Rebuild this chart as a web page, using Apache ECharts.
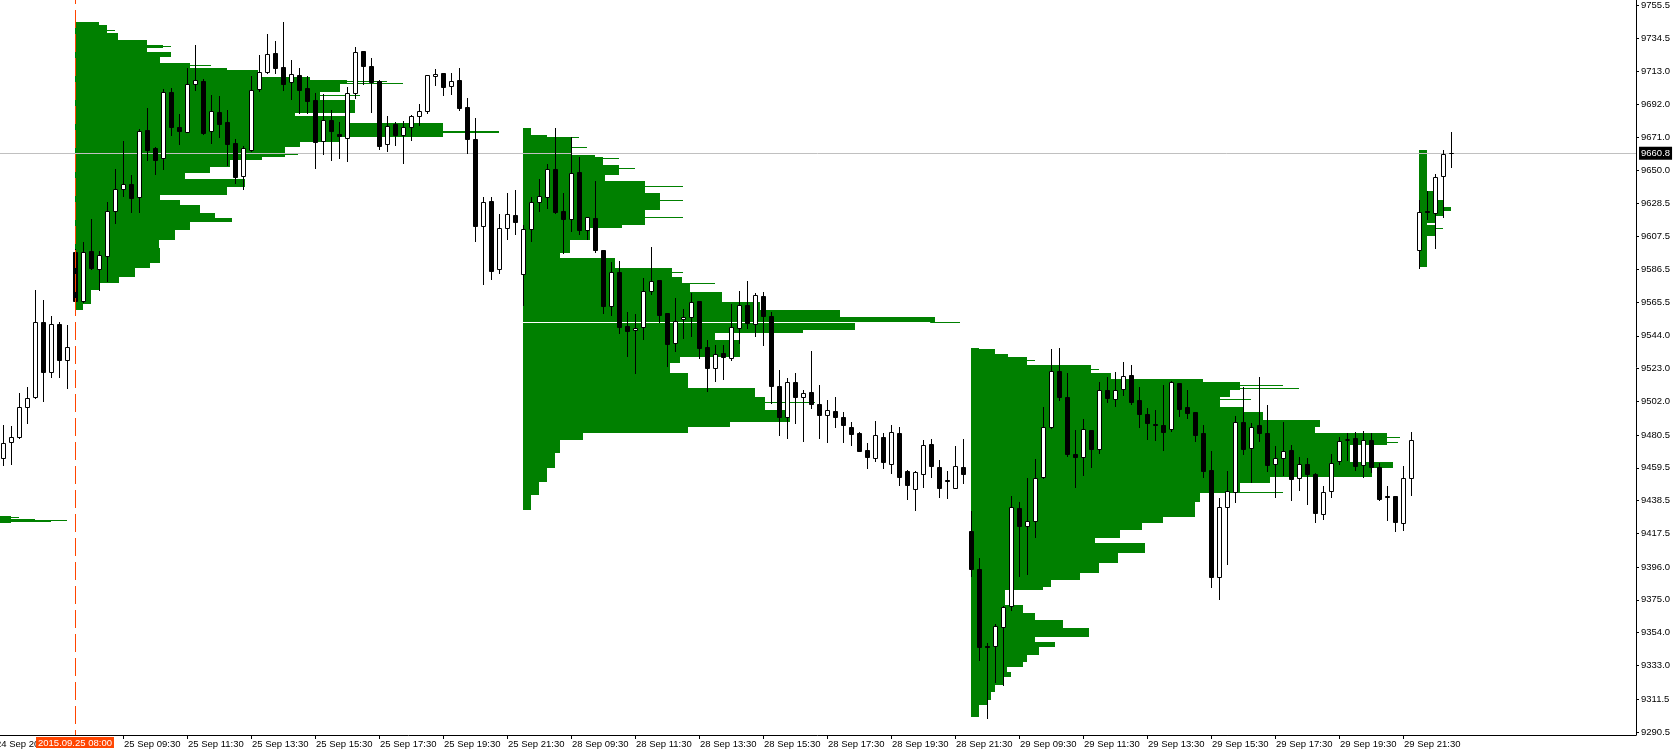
<!DOCTYPE html>
<html><head><meta charset="utf-8">
<script src="https://cdn.jsdelivr.net/npm/echarts@6/dist/echarts.min.js"></script>
<style>html,body{margin:0;padding:0;background:#fff;overflow:hidden}#c{width:1677px;height:752px}</style>
</head><body><div id="c"></div>
<script>
// ---------- tick labels ----------
const priceTicks = ['9755.5','9734.5','9713.0','9692.0','9671.0','9650.0','9628.5','9607.5','9586.5','9565.5','9544.0','9523.0','9502.0','9480.5','9459.5','9438.5','9417.5','9396.0','9375.0','9354.0','9333.0','9311.5','9290.5'];
const timeTickBars = [-10,6,14,22,30,38,46,54,62,70,78,86,94,102,110,118,126,134,142,150,158,166];
const timeTickLabels = ['24 Sep 20:00','25 Sep 09:30','25 Sep 11:30','25 Sep 13:30','25 Sep 15:30','25 Sep 17:30','25 Sep 19:30','25 Sep 21:30','28 Sep 09:30','28 Sep 11:30','28 Sep 13:30','28 Sep 15:30','28 Sep 17:30','28 Sep 19:30','28 Sep 21:30','29 Sep 09:30','29 Sep 11:30','29 Sep 13:30','29 Sep 15:30','29 Sep 17:30','29 Sep 19:30','29 Sep 21:30'];
const bidPrice = 9660.8;
const markerBar = 0;
const markerLabel = '2015.09.25 08:00';

// ---------- candles [open, high, low, close] ----------
const firstBarIndex = -9;
const candles24Sep = [
[9465.6,9486.9,9461.3,9475.2],[9475.8,9486.3,9462.1,9479.0],[9479.4,9507.2,9478.8,9498.2],[9498.2,9511.2,9488.4,9504.0],
[9504.6,9573.3,9504.0,9552.6],[9552.6,9566.9,9502.5,9521.0],[9521.0,9556.7,9517.8,9551.3],[9551.3,9552.8,9517.8,9528.7],
[9528.3,9550.9,9510.8,9536.6]];
const candles25Sep = [
[9597.4,9599.3,9566.0,9566.5],[9566.5,9603.8,9565.8,9597.4],[9598.1,9618.5,9586.5,9587.2],[9586.5,9598.0,9573.5,9595.5],
[9595.2,9629.6,9579.3,9623.7],[9623.7,9650.7,9616.4,9637.7],[9637.7,9668.7,9633.5,9641.1],[9641.1,9646.9,9623.4,9632.4],
[9633.0,9676.3,9623.4,9674.9],[9675.7,9690.0,9656.3,9663.1],[9664.2,9664.8,9647.8,9656.7],[9657.6,9701.7,9650.5,9699.8],
[9699.8,9702.4,9672.7,9677.8],[9677.6,9685.9,9666.9,9675.3],[9674.6,9715.2,9674.6,9704.9],[9704.9,9730.1,9701.1,9707.5],
[9707.1,9708.1,9673.1,9674.0],[9674.9,9697.9,9667.6,9687.7],[9687.2,9697.5,9671.4,9679.7],[9680.8,9688.5,9653.5,9666.9],
[9667.2,9669.7,9642.0,9645.8],[9646.4,9665.6,9637.7,9664.0],[9663.1,9710.3,9662.5,9701.1],[9701.7,9723.7,9700.7,9712.6],
[9713.0,9737.1,9712.4,9724.3],[9725.0,9732.7,9712.0,9715.6],[9716.0,9744.8,9701.3,9705.3],[9706.2,9720.5,9695.5,9711.3],
[9710.7,9715.2,9686.8,9701.5],[9702.4,9710.3,9686.8,9694.5],[9694.9,9699.2,9651.2,9668.2],[9668.5,9698.9,9660.1,9681.9],
[9681.9,9688.5,9656.7,9675.3],[9673.1,9681.0,9658.0,9672.1],[9670.4,9703.4,9656.1,9699.2],[9699.2,9728.8,9696.4,9725.8],
[9726.3,9726.3,9705.1,9716.9],[9716.7,9721.6,9687.4,9706.6],[9707.1,9707.7,9663.5,9665.6],[9666.5,9684.7,9662.5,9678.5],
[9679.3,9680.8,9666.3,9672.7],[9672.3,9681.5,9654.8,9677.8],[9677.4,9685.0,9669.3,9684.5],[9684.5,9692.3,9678.9,9687.7],
[9687.7,9710.7,9686.8,9710.7],[9710.0,9714.7,9704.5,9711.5],[9712.0,9712.0,9698.1,9703.4],[9703.7,9712.2,9698.9,9707.1],
[9707.5,9715.2,9688.7,9690.0],[9690.2,9696.0,9661.2,9670.1],[9669.7,9683.2,9604.9,9614.4],[9614.4,9632.6,9576.9,9629.4],
[9630.2,9632.6,9580.1,9585.6],[9586.5,9621.9,9584.4,9612.8],[9612.8,9635.4,9606.1,9621.7],[9621.3,9637.1,9609.1,9617.0]];
const candles28Sep = [
[9583.4,9615.0,9563.7,9612.3],[9612.1,9632.6,9604.9,9629.4],[9629.4,9644.2,9624.1,9633.3],[9632.6,9653.9,9625.8,9650.5],
[9650.5,9677.0,9622.8,9623.4],[9623.9,9635.4,9596.8,9618.9],[9618.9,9671.0,9611.3,9648.0],[9648.8,9658.6,9609.1,9611.7],
[9611.5,9619.8,9606.1,9619.8],[9619.4,9643.1,9597.8,9598.9],[9598.9,9598.9,9558.8,9563.1],[9563.3,9591.4,9557.3,9584.6],
[9584.6,9592.0,9545.6,9549.8],[9550.3,9559.2,9531.1,9547.3],[9547.5,9557.9,9520.0,9548.8],[9549.4,9580.8,9541.7,9572.5],
[9572.5,9600.8,9570.5,9578.9],[9579.5,9579.5,9553.0,9557.5],[9558.6,9558.6,9524.9,9538.9],[9539.2,9568.0,9534.5,9553.6],
[9554.5,9561.0,9542.4,9556.2],[9555.8,9571.2,9543.9,9565.8],[9566.0,9566.0,9529.6,9536.4],[9536.6,9541.3,9508.7,9523.6],
[9523.6,9537.9,9515.3,9532.1],[9532.8,9538.1,9516.5,9530.6],[9530.0,9564.2,9528.5,9549.4],[9548.8,9572.5,9539.2,9563.7],
[9563.7,9579.1,9548.8,9552.4],[9551.3,9571.6,9544.1,9569.9],[9569.5,9572.0,9538.1,9556.9],[9556.9,9559.0,9500.8,9512.1],
[9511.9,9522.1,9480.7,9491.8],[9491.8,9516.8,9478.8,9514.6],[9514.2,9520.0,9488.0,9505.0],[9504.6,9509.3,9476.9,9507.2],
[9507.8,9534.3,9498.0,9500.1],[9500.1,9512.3,9478.8,9493.1],[9493.1,9502.7,9476.2,9496.3],[9495.7,9504.6,9485.4,9492.2],
[9492.2,9495.0,9476.2,9486.7],[9485.4,9488.6,9473.9,9481.0],[9481.6,9482.6,9470.4,9470.4],[9470.9,9475.2,9459.6,9466.6],
[9465.9,9489.3,9464.0,9480.5],[9479.0,9482.0,9459.6,9463.4],[9461.8,9486.9,9456.4,9482.2],[9481.6,9485.8,9448.3,9453.8],
[9457.5,9458.1,9439.3,9448.3],[9445.7,9457.7,9432.5,9456.6],[9455.3,9477.3,9447.0,9473.9],[9474.7,9477.9,9453.4,9460.5],
[9459.8,9464.5,9441.0,9446.8],[9451.7,9457.7,9440.4,9450.9],[9446.4,9473.5,9446.4,9460.5],[9460.0,9477.9,9450.0,9455.3]];
const candles29Sep = [
[9418.9,9431.7,9390.5,9395.0],[9394.6,9402.0,9336.5,9344.6],[9345.5,9347.2,9299.6,9344.6],[9345.5,9359.4,9322.6,9358.1],
[9357.4,9371.1,9320.5,9370.6],[9370.9,9441.5,9368.5,9434.6],[9434.0,9437.6,9390.5,9422.5],[9422.0,9453.0,9391.4,9425.7],
[9425.7,9465.1,9415.4,9452.8],[9453.4,9498.4,9452.8,9485.8],[9485.8,9535.5,9484.8,9521.3],[9521.3,9536.0,9502.9,9505.0],
[9504.6,9520.0,9467.1,9468.5],[9468.1,9483.7,9447.4,9466.6],[9466.2,9490.6,9455.1,9484.2],[9483.7,9483.7,9460.2,9471.7],
[9471.5,9514.2,9468.8,9509.5],[9509.5,9517.8,9501.8,9504.0],[9503.4,9521.0,9499.3,9509.5],[9509.8,9527.0,9506.1,9518.5],
[9518.7,9525.3,9500.3,9501.8],[9502.7,9511.0,9485.8,9493.7],[9493.7,9497.6,9478.1,9488.0],[9487.5,9496.5,9477.3,9486.7],
[9486.7,9512.5,9470.9,9482.6],[9484.2,9515.1,9483.0,9514.2],[9513.6,9513.6,9492.7,9497.3],[9498.2,9509.3,9491.2,9494.8],
[9495.0,9495.0,9476.9,9480.7],[9481.6,9486.7,9453.8,9457.6],[9458.1,9470.3,9383.4,9389.8],[9389.8,9440.0,9375.3,9434.2],
[9434.2,9457.5,9397.9,9444.5],[9443.8,9492.7,9437.8,9488.6],[9488.6,9511.2,9468.4,9471.7],[9472.0,9488.2,9450.2,9485.8],
[9486.7,9517.6,9476.9,9481.6],[9481.6,9499.5,9457.3,9461.5],[9461.8,9473.3,9441.0,9465.6],[9465.6,9488.8,9455.1,9470.1],
[9470.7,9473.9,9439.1,9452.5],[9453.0,9466.4,9445.3,9461.8],[9461.8,9465.8,9436.5,9455.3],[9455.3,9456.0,9424.8,9430.4],
[9429.9,9447.9,9426.7,9443.8],[9444.5,9468.1,9441.0,9462.8],[9463.9,9479.4,9461.8,9476.5],[9477.1,9481.6,9464.3,9477.8],
[9478.6,9482.4,9458.1,9460.9],[9461.1,9482.9,9453.8,9477.1],[9477.3,9481.6,9457.0,9459.8],[9460.0,9462.4,9439.1,9439.5],
[9441.5,9447.9,9426.3,9440.6],[9441.5,9441.5,9418.9,9424.6],[9424.2,9460.7,9419.7,9452.8],[9452.8,9482.4,9442.1,9477.1]];
const candles30Sep = [
[9598.7,9630.9,9587.6,9623.0],[9623.7,9636.7,9618.5,9623.2],[9622.8,9647.5,9600.4,9645.4],[9646.1,9662.9,9620.2,9660.3],
[9660.8,9674.4,9652.2,9660.8]];

// ---------- volume profiles: rows [top price, bottom price, length in bars] ----------
const profile24SepStart = -56;
const profile24SepRows = [
[9428.7,9424.2,48.0],[9428.2,9427.6,49.0],[9426.9,9425.6,51.0],[9425.6,9424.8,53.0],[9426.3,9425.6,55.0]];
const profile25SepStart = 0;
const profile25SepRows = [
[9744.8,9742.9,3.0],[9742.9,9737.8,4.0],[9739.7,9739.1,5.0],[9737.8,9733.3,5.4],[9733.3,9730.1,9.0],
[9730.1,9728.2,11.0],[9729.5,9728.8,12.0],[9728.2,9725.6,9.0],[9725.6,9722.4,12.0],[9722.4,9718.6,10.6],
[9718.6,9715.4,14.4],[9717.3,9716.7,17.0],[9715.4,9714.1,19.0],[9714.1,9709.6,22.9],[9709.6,9707.7,29.4],
[9707.7,9705.8,34.0],[9707.1,9706.4,39.0],[9705.8,9705.2,41.0],[9705.2,9700.0,33.1],[9700.0,9694.9,30.6],
[9698.1,9697.5,35.6],[9694.9,9686.6,35.0],[9686.6,9684.7,27.5],[9684.7,9680.2,33.8],[9680.2,9671.2,46.0],
[9675.1,9673.8,53.0],[9671.2,9668.0,33.1],[9668.0,9664.8,28.1],[9664.8,9658.4,26.3],[9660.3,9659.7,27.9],
[9658.4,9656.5,23.4],[9656.5,9652.0,19.4],[9652.0,9648.2,16.9],[9648.2,9644.3,13.8],[9644.3,9639.2,21.3],
[9639.2,9634.1,19.0],[9634.1,9630.9,10.6],[9630.9,9627.7,13.1],[9627.7,9622.6,15.6],[9622.6,9618.1,17.5],
[9619.4,9616.8,19.6],[9616.8,9611.7,14.4],[9611.7,9605.3,12.5],[9605.3,9600.2,10.5],[9600.2,9590.6,10.6],
[9590.6,9587.4,9.4],[9587.4,9581.6,7.5],[9581.6,9577.8,5.5],[9577.8,9573.3,3.1],[9573.3,9564.3,2.0],
[9564.3,9560.5,1.0]];
const profile28SepStart = 56;
const profile28SepRows = [
[9677.0,9672.5,1.0],[9672.5,9671.2,3.0],[9671.2,9659.7,6.1],[9671.2,9670.6,7.0],[9664.8,9664.2,8.0],
[9659.7,9658.4,9.0],[9658.4,9653.3,10.0],[9657.8,9657.1,12.0],[9653.3,9646.9,12.0],[9651.4,9650.7,14.0],
[9646.9,9643.1,10.3],[9643.1,9635.4,15.3],[9639.9,9639.2,20.0],[9635.4,9624.5,17.1],[9630.9,9630.3,20.0],
[9624.5,9614.9,15.3],[9620.0,9619.4,20.0],[9614.9,9613.0,12.4],[9613.0,9605.3,8.4],[9605.3,9597.0,5.9],
[9597.0,9593.8,4.6],[9593.8,9587.4,11.5],[9587.4,9581.6,18.6],[9584.8,9584.2,20.0],[9581.6,9577.8,19.9],
[9577.8,9572.0,20.9],[9577.8,9577.1,24.0],[9572.0,9565.6,24.9],[9565.6,9560.5,29.6],[9560.5,9556.0,39.6],
[9556.0,9552.8,51.5],[9552.8,9552.2,54.6],[9552.2,9547.7,41.5],[9547.7,9545.8,35.0],[9545.8,9541.3,24.0],
[9541.3,9530.4,27.1],[9530.4,9526.6,19.6],[9526.6,9520.2,18.4],[9520.2,9510.6,20.6],[9510.6,9504.8,29.0],
[9504.8,9496.5,30.3],[9501.6,9501.0,36.5],[9496.5,9488.8,33.4],[9488.8,9485.6,25.9],[9485.6,9481.8,20.6],
[9481.8,9477.3,7.5],[9477.3,9469.0,4.6],[9469.0,9459.4,4.0],[9459.4,9450.4,3.0],[9450.4,9442.1,2.0],
[9442.1,9432.5,1.0]];
const profile29SepStart = 112;
const profile29SepRows = [
[9536.2,9535.5,1.0],[9535.5,9532.3,3.0],[9532.3,9530.4,4.6],[9530.4,9525.3,7.0],[9528.5,9527.9,8.0],
[9525.3,9520.2,15.0],[9522.7,9522.1,16.0],[9520.2,9516.3,17.5],[9516.3,9514.4,29.0],[9514.4,9509.3,33.6],
[9512.5,9511.9,39.0],[9510.6,9509.9,41.0],[9509.3,9504.8,32.4],[9504.8,9498.4,31.1],[9503.5,9502.9,35.0],
[9498.4,9495.2,34.0],[9495.2,9490.1,36.5],[9490.1,9485.6,43.6],[9485.6,9481.8,43.0],[9481.8,9474.1,52.0],
[9479.2,9478.6,53.6],[9476.0,9475.4,53.4],[9474.1,9463.2,47.4],[9463.2,9459.4,52.8],[9459.4,9453.6,50.1],
[9453.6,9449.8,37.4],[9449.8,9443.4,33.6],[9444.0,9443.4,39.0],[9443.4,9437.6,28.6],[9437.6,9428.0,28.0],
[9428.0,9424.2,24.0],[9424.2,9419.7,21.4],[9419.7,9414.6,18.6],[9414.6,9411.4,15.5],[9411.4,9405.0,21.8],
[9405.0,9398.6,18.4],[9398.6,9392.2,16.0],[9392.2,9387.7,13.6],[9387.7,9383.2,10.0],[9383.2,9381.3,9.0],
[9381.3,9371.7,4.3],[9371.7,9366.6,6.5],[9366.6,9362.1,8.0],[9362.1,9357.0,11.5],[9357.0,9351.2,14.8],
[9351.2,9348.0,8.0],[9348.0,9344.8,10.5],[9344.8,9339.7,8.5],[9339.7,9335.2,7.0],[9335.2,9332.0,6.5],
[9332.0,9328.8,4.5],[9328.8,9325.6,5.0],[9325.6,9320.5,4.0],[9320.5,9316.0,3.0],[9316.0,9310.9,2.5],
[9310.9,9307.7,2.0],[9307.7,9300.0,1.0]];
const profile30SepStart = 168;
const profile30SepRows = [
[9662.9,9636.7,1.0],[9636.7,9630.9,2.0],[9630.9,9626.4,3.0],[9626.4,9623.9,4.0],[9623.9,9620.7,3.0],
[9620.7,9616.2,2.0],[9616.2,9614.9,1.0],[9614.9,9607.9,2.0],[9613.0,9612.3,3.0],[9607.9,9588.0,1.0]];
const pocLine28Sep = [9552.8, 56, 106.9]; // price, from bar, to bar

// ---------- build ----------
const allCandles = [].concat(candles24Sep, candles25Sep, candles28Sep, candles29Sep, candles30Sep)
  .map((c, i) => [firstBarIndex + i, c[0], c[1], c[2], c[3]]);
const profileData = [];
[[profile24SepStart, profile24SepRows],[profile25SepStart, profile25SepRows],[profile28SepStart, profile28SepRows],
 [profile29SepStart, profile29SepRows],[profile30SepStart, profile30SepRows]].forEach(([s, rows]) => {
  rows.forEach(r => profileData.push([s, r[0], r[1], r[2]]));
});

const FONT = 'Liberation Sans';
const FS = 9.5;
const Y_MIN = 9288.5, Y_MAX = 9758.9;
const ORANGE = '#FF4500';

function renderProfile(params, api) {
  const s = api.value(0), top = api.value(1), bot = api.value(2), len = api.value(3);
  const p1 = api.coord([s, top]), p2 = api.coord([s + len, bot]);
  const x1 = Math.round(p1[0]), x2 = Math.round(p2[0]);
  const y1 = Math.round(p1[1]);
  const y2 = Math.max(Math.round(p2[1]), y1 + 1);
  return { type: 'rect', shape: { x: x1, y: y1, width: x2 - x1, height: y2 - y1 }, style: { fill: '#008000' } };
}
function renderCandle(params, api) {
  const k = api.value(0), o = api.value(1), h = api.value(2), l = api.value(3), c = api.value(4);
  const po = api.coord([k, o]);
  const xc = Math.round(po[0]);
  const yo = po[1], yc = api.coord([k, c])[1], yh = api.coord([k, h])[1], yl = api.coord([k, l])[1];
  const top = Math.round(Math.min(yo, yc)), bot = Math.round(Math.max(yo, yc));
  const bull = c >= o;
  return { type: 'group', children: [
    { type: 'line', shape: { x1: xc + 0.5, y1: Math.round(yh), x2: xc + 0.5, y2: Math.round(yl) + 1 }, style: { stroke: '#000', lineWidth: 1 } },
    { type: 'rect', shape: { x: xc - 1.5, y: top + 0.5, width: 4, height: Math.max(bot - top, 0) }, style: { fill: bull ? '#fff' : '#000', stroke: '#000', lineWidth: 1 } }
  ]};
}
function renderHLine(params, api) {
  // horizontal level line: [price, fromBar, toBar, colorIndex]
  const p = api.value(0);
  const a = api.coord([api.value(1), p]), b = api.coord([api.value(2), p]);
  const y = Math.round(a[1]) + 0.5;
  const colors = ['#C0C0C0', '#FFFFFF'];
  return { type: 'line', shape: { x1: a[0], y1: y, x2: b[0], y2: y }, style: { stroke: colors[api.value(3)], lineWidth: 1 } };
}
function renderMarker(params, api) {
  const k = api.value(0);
  const t = api.coord([k, Y_MAX]), b = api.coord([k, Y_MIN]);
  const x = Math.round(t[0]);
  const top = Math.round(t[1]), bottom = Math.round(b[1]);
  const parts = [];
  for (let y = top - 14; y < bottom; y += 24) {
    const y0 = Math.max(y, top), y1 = Math.min(y + 18, bottom);
    if (y1 > y0) parts.push({ type: 'rect', shape: { x: x, y: y0, width: 1, height: y1 - y0 }, style: { fill: ORANGE } });
  }
  parts.push({ type: 'text', x: x, y: bottom + 2,
    style: { text: markerLabel, fill: '#fff', backgroundColor: ORANGE, padding: [1, 2, 0, 2],
             font: FS + 'px "' + FONT + '"', align: 'center', verticalAlign: 'top' } });
  return { type: 'group', children: parts };
}

const chart = echarts.init(document.getElementById('c'), null, { renderer: 'canvas' });
chart.setOption({
  animation: false,
  backgroundColor: '#fff',
  grid: { left: -5, right: 41, top: 0, bottom: 17, containLabel: false, outerBoundsMode: 'none' },
  xAxis: {
    type: 'value', min: -10, max: 195.125, position: 'bottom',
    axisLine: { show: true, onZero: false, lineStyle: { color: '#000', width: 1 } },
    axisTick: { show: true, customValues: timeTickBars, length: 4, lineStyle: { color: '#000' } },
    axisLabel: {
      show: true, customValues: timeTickBars, margin: 4, align: 'left', padding: [0, 0, 0, 1],
      color: '#000', fontFamily: FONT, fontSize: FS,
      formatter: v => timeTickLabels[timeTickBars.indexOf(v)] || ''
    },
    splitLine: { show: false }
  },
  yAxis: {
    type: 'value', min: Y_MIN, max: Y_MAX, position: 'right', scale: true,
    axisLine: { show: true, onZero: false, lineStyle: { color: '#000', width: 1 } },
    axisTick: { show: true, customValues: priceTicks.map(Number), length: 3, lineStyle: { color: '#000' } },
    axisLabel: {
      show: true, customValues: priceTicks.map(Number), margin: 5,
      color: '#000', fontFamily: FONT, fontSize: FS,
      formatter: v => Number(v).toFixed(1)
    },
    splitLine: { show: false }
  },
  series: [
    { type: 'custom', name: 'profiles', renderItem: renderProfile, data: profileData, z: 1, silent: true, clip: true,
      encode: { x: 0, y: 1 } },
    { type: 'custom', name: 'levels', renderItem: renderHLine, z: 2, silent: true, clip: true,
      data: [[bidPrice, -10, 195.125, 0], [pocLine28Sep[0], pocLine28Sep[1], pocLine28Sep[2], 1]],
      encode: { x: 1, y: 0 } },
    { type: 'line', name: 'bidLabel', data: [], z: 2, silent: true, symbol: 'none',
      markLine: {
        silent: true, symbol: ['none', 'none'], animation: false,
        data: [
          { yAxis: bidPrice, lineStyle: { color: 'rgba(0,0,0,0)' },
            label: { show: true, position: 'end', formatter: bidPrice.toFixed(1), backgroundColor: '#000', color: '#fff',
                     fontFamily: FONT, fontSize: FS, padding: [2, 2, 1, 2], distance: 3 } }
        ]
      } },
    { type: 'custom', name: 'candles', renderItem: renderCandle, data: allCandles, z: 3, silent: true, clip: true,
      encode: { x: 0, y: [1, 2, 3, 4] } },
    { type: 'custom', name: 'marker', renderItem: renderMarker, data: [[markerBar]], z: 5, silent: true, clip: false,
      encode: { x: 0 } }
  ]
});
</script>
</body></html>
